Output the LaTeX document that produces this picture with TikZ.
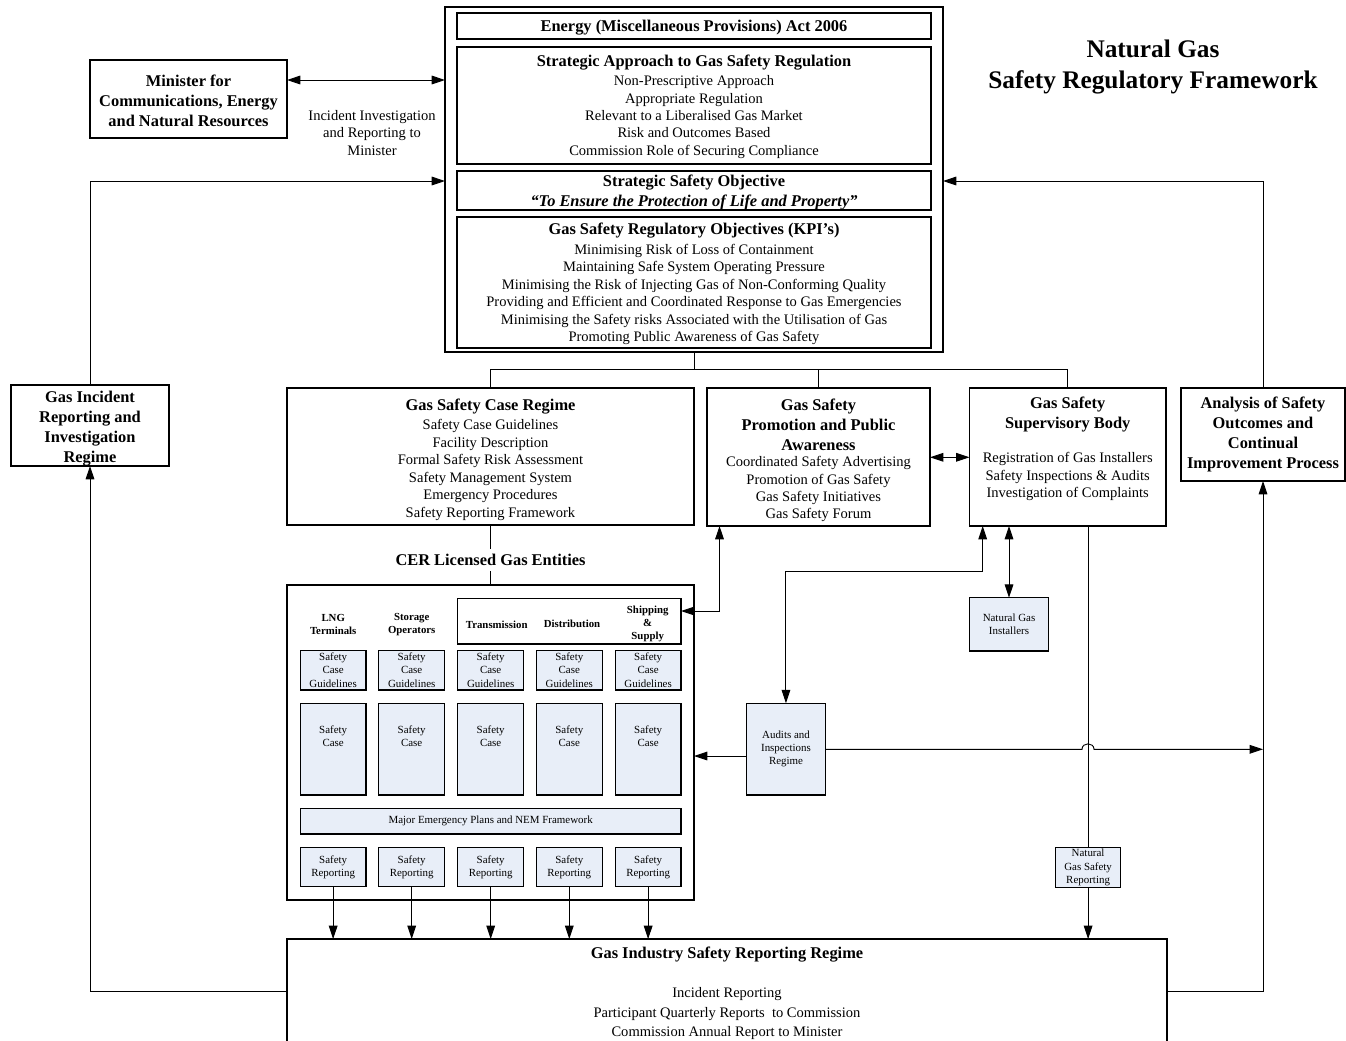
\documentclass[tikz,border=0pt]{standalone}
\usepackage{fontspec}
\setmainfont{Liberation Serif}
\usetikzlibrary{arrows.meta,calc}
\definecolor{pale}{RGB}{232,238,248}
\newcommand{\mybox}[6][]{\node[boxs,#1,minimum width={(#5-#3)*0.75pt},minimum height={(#6-#4)*0.75pt}] (#2) at ({(#3+#5)/2},{(#4+#6)/2}) {};}
\newcommand\myfH{\fontsize{12.3}{15}\selectfont\bfseries}
\newcommand\myfB{\fontsize{10.9}{13.1}\selectfont}
\newcommand\myfBB{\fontsize{10.9}{14.3}\selectfont}
\newcommand\myfS{\fontsize{8.2}{9.9}\selectfont}
\newcommand\myfSB{\fontsize{8.1}{9.9}\selectfont\bfseries}
\newcommand\myfT{\fontsize{19}{23.3}\selectfont\bfseries}
\tikzset{
  boxs/.style={draw, line width=0.9pt, inner sep=0pt, outer sep=0pt},
  pbox/.style={fill=pale, line width=0.8pt},
  txt/.style={align=center, inner sep=0pt, yshift=-1.5pt},
  stxt/.style={align=center, inner sep=0pt, font=\myfS},
  conn/.style={line width=0.7pt},
  arr/.style={conn, -{Triangle[length=10pt,width=6.5pt]}},
  darr/.style={conn, {Triangle[length=10pt,width=6.5pt]}-{Triangle[length=10pt,width=6.5pt]}},
}
\begin{document}
\begin{tikzpicture}[x=0.75pt,y=-0.75pt]
\useasboundingbox (0,0) rectangle (1346,1040);
% ---------- top block
\mybox{top}{445}{7}{943}{352}
\mybox{act}{457}{13}{931}{39}
\mybox{sa}{457}{47}{931}{164}
\mybox{sso}{457}{171}{931}{210}
\mybox{kpi}{457}{217}{931}{348}
\node[txt,font=\myfH] (act-t) at (694,26) {Energy (Miscellaneous Provisions) Act 2006};
\node[txt,font=\myfH] (sa-h) at (694,61) {Strategic Approach to Gas Safety Regulation};
\node[txt,font=\myfB] (sa-t) at (694,115) {Non-Prescriptive Approach\\Appropriate Regulation\\Relevant to a Liberalised Gas Market\\Risk and Outcomes Based\\Commission Role of Securing Compliance};
\node[txt,font=\myfH] (sso-h) at (694,181) {Strategic Safety Objective};
\node[txt,font=\myfH\itshape] (sso-t) at (694,200) {“To Ensure the Protection of Life and Property”};
\node[txt,font=\myfH] (kpi-h) at (694,229) {Gas Safety Regulatory Objectives (KPI’s)};
\node[txt,font=\myfB] (kpi-t) at (694,292.5) {Minimising Risk of Loss of Containment\\Maintaining Safe System Operating Pressure\\Minimising the Risk of Injecting Gas of Non-Conforming Quality\\Providing and Efficient and Coordinated Response to Gas Emergencies\\Minimising the Safety risks Associated with the Utilisation of Gas\\Promoting Public Awareness of Gas Safety};
% ---------- title
\node[txt,font=\myfT] (title) at (1153,65) {Natural Gas\\Safety Regulatory Framework};
% ---------- minister
\mybox{mini}{90}{60}{287}{138}
\node[txt,font=\myfH] (mini-t) at (188.5,99) {Minister for\\Communications, Energy\\and Natural Resources};
\node[txt,font=\myfB] (iir) at (372,131) {Incident Investigation\\and Reporting to\\Minister};
% ---------- second row
\mybox{gir}{11}{385}{169}{466}
\node[txt,font=\myfH] (gir-t) at (90,426.5) {Gas Incident\\Reporting and\\Investigation\\Regime};
\mybox{gscr}{287}{388}{694}{525}
\node[txt,font=\myfH] (gscr-h) at (490.5,405) {Gas Safety Case Regime};
\node[txt,font=\myfB] (gscr-t) at (490.5,468) {Safety Case Guidelines\\Facility Description\\Formal Safety Risk Assessment\\Safety Management System\\Emergency Procedures\\Safety Reporting Framework};
\mybox{promo}{707}{388}{930}{526}
\node[txt,font=\myfH] (promo-h) at (818.5,422.7) {Gas Safety\\Promotion and Public\\Awareness};
\node[txt,font=\myfB] (promo-t) at (818.5,487.2) {Coordinated Safety Advertising\\Promotion of Gas Safety\\Gas Safety Initiatives\\Gas Safety Forum};
\mybox{sup}{969.5}{388}{1166}{526}
\node[txt,font=\myfH] (sup-h) at (1067.7,412) {Gas Safety\\Supervisory Body};
\node[txt,font=\myfB] (sup-t) at (1067.7,474.8) {Registration of Gas Installers\\Safety Inspections \& Audits\\Investigation of Complaints};
\mybox{ana}{1181}{388}{1345}{481}
\node[txt,font=\myfH] (ana-t) at (1263,432.7) {Analysis of Safety\\Outcomes and\\Continual\\Improvement Process};
% ---------- entities
\node[txt,font=\myfH,inner sep=4pt] (cer) at (490.5,558) {CER Licensed Gas Entities};
\mybox{ent}{287}{585}{694}{900}
\mybox[line width=1pt]{trans}{457.7}{598.3}{681}{644}
\node[stxt,font=\myfSB] (lng) at (333.2,624.2) {LNG\\Terminals};
\node[stxt,font=\myfSB] (sto) at (411.7,624.2) {Storage\\Operators};
\node[stxt,font=\myfSB] (tra) at (496.7,624.3) {Transmission};
\node[stxt,font=\myfSB] (dis) at (572,624.3) {Distribution};
\node[stxt,font=\myfSB] (shi) at (647.7,624) {Shipping\\\&\\Supply};
\foreach \i/\xa/\xb in {1/300.3/366,2/378.7/444.7,3/457.7/523.7,4/536.3/602.3,5/615.3/681}{
  \mybox[pbox]{scg\i}{\xa}{650.3}{\xb}{690}
  \node[stxt] (scgt\i) at (scg\i) {Safety\\Case\\Guidelines};
  \mybox[pbox]{sc\i}{\xa}{703.3}{\xb}{795}
  \node[stxt] (sct\i) at ($(sc\i.north)+(0,33)$) {Safety\\Case};
  \mybox[pbox]{sr\i}{\xa}{847.3}{\xb}{886.7}
  \node[stxt] (srt\i) at (sr\i) {Safety\\Reporting};
}
\mybox[pbox]{mep}{300.3}{808.3}{681}{834}
\node[stxt] (mep-t) at (mep) {Major Emergency Plans and NEM Framework};
% ---------- small boxes
\mybox[pbox]{inst}{969.5}{597.7}{1048.5}{651}
\node[stxt] (inst-t) at (inst) {Natural Gas\\Installers};
\mybox[pbox]{aud}{746.7}{703.3}{825.2}{795}
\node[stxt] (aud-t) at (786,749.1) {Audits and\\Inspections\\Regime};
\mybox[pbox]{ngsr}{1055.4}{847.7}{1120.8}{887.3}
\node[stxt] (ngsr-t) at (ngsr) {Natural\\Gas Safety\\Reporting};
% ---------- bottom
\mybox{gisr}{287}{939}{1167}{1060}
\node[txt,font=\myfH] (gisr-h) at (727,952.7) {Gas Industry Safety Reporting Regime};
\node[txt,font=\myfBB] (gisr-t) at (727,1011.5) {Incident Reporting\\Participant Quarterly Reports\ \ to Commission\\Commission Annual Report to Minister};
% ---------- routing coordinates
\coordinate (y80) at (0,80);
\coordinate (y181) at (0,181);
\coordinate (hub) at (694,369);
\coordinate (y457) at (0,457.3);
\coordinate (y611) at (0,611);
\coordinate (x719) at (719.5,0);
\coordinate (k1) at (982.7,571.7);
\coordinate (y756) at (0,756);
\coordinate (y749) at (0,749.3);
\coordinate (y991) at (0,991);
% ---------- connectors
\draw[darr] (mini.east |- y80) -- (top.west |- y80);
\draw[arr] (gir.north) |- (top.west |- y181);
\draw[arr] (ana.north) |- (top.east |- y181);
\draw[conn] (top.south) -- (hub);
\draw[conn] (gscr.north) |- (hub);
\draw[conn] (sup.north) |- (hub);
\draw[conn] (promo.north) -- (promo.north |- hub);
\draw[conn] (gscr.south) -- (cer.north);
\draw[conn] (cer.south) -- (ent.north);
\draw[darr] (promo.east |- y457) -- (sup.west |- y457);
\draw[darr] (trans.east |- y611) -| (promo.south -| x719);
\draw[darr] (aud.north) |- (k1) -- (sup.south -| k1);
\draw[darr] (inst.north) -- (inst.north |- sup.south);
\draw[conn] (ngsr.north) -- (ngsr.north |- sup.south);
\draw[arr] (ngsr.south) -- (ngsr.south |- gisr.north);
\draw[arr] (aud.west |- y756) -- (ent.east |- y756);
\draw[arr] (aud.east |- y749) -- (1082,749.3) .. controls (1082,742) and (1094,742) .. (1094,749.3) -- (ana.south |- y749);
\draw[arr] (gisr.west |- y991) -| (gir.south);
\draw[arr] (gisr.east |- y991) -| (ana.south);
\foreach \i in {1,...,5}{
  \draw[arr] (sr\i.south) -- (sr\i.south |- gisr.north);
}
\end{tikzpicture}
\end{document}
